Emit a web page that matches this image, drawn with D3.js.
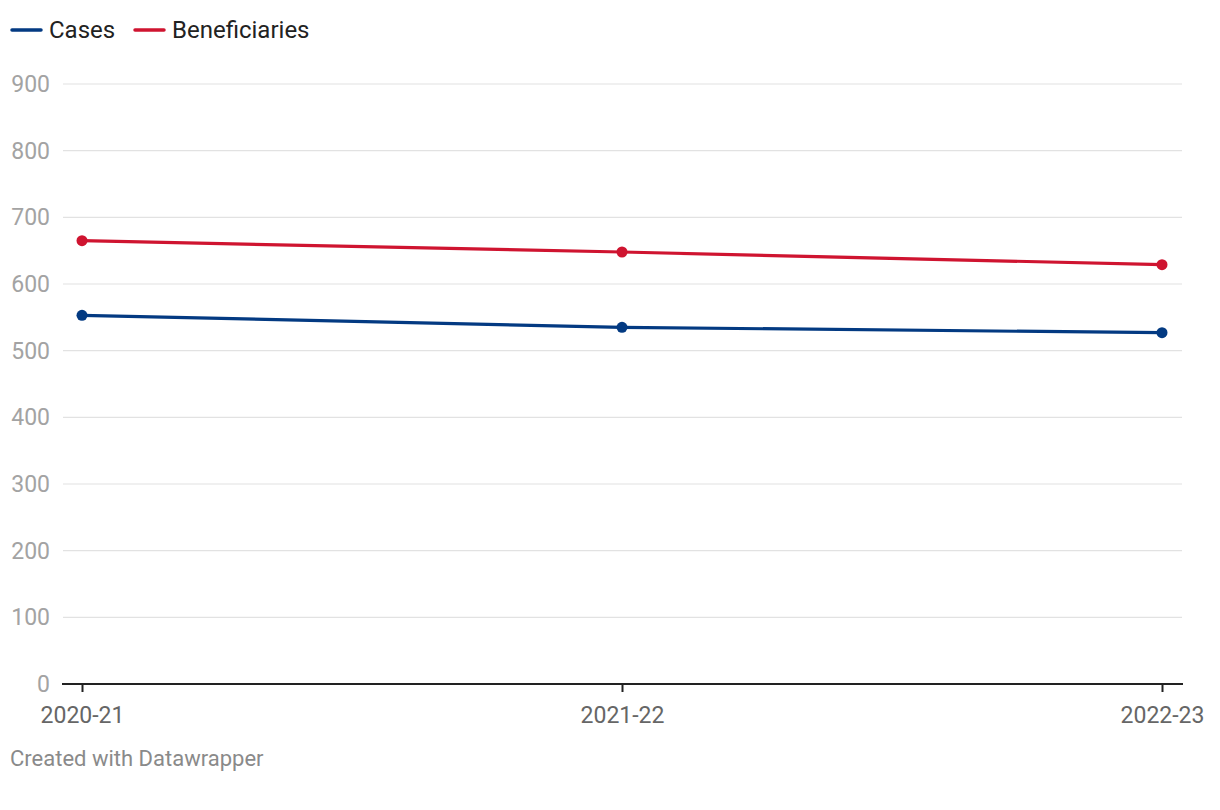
<!DOCTYPE html>
<html>
<head>
<meta charset="utf-8">
<script src="https://cdn.jsdelivr.net/npm/d3@7"></script>
<style>
  body { margin: 0; background: #fff; font-family: Roboto, "Noto Sans", sans-serif; }
</style>
</head>
<body>
<svg width="1220" height="810"></svg>
<script>
// data
var years = ["2020-21", "2021-22", "2022-23"];
var cases = [553, 535, 527];
var beneficiaries = [665, 648, 629];
var yTicks = [0, 100, 200, 300, 400, 500, 600, 700, 800, 900];

var seriesList = [
  { name: "Cases", values: cases, color: "#033a82" },
  { name: "Beneficiaries", values: beneficiaries, color: "#cf1430" }
];

var svg = d3.select("svg");

var x = d3.scalePoint()
    .domain(years)
    .range([82, 1162]);

var y = d3.scaleLinear()
    .domain([0, 900])
    .range([684, 84]);

// gridlines
svg.append("g")
  .selectAll("line")
  .data(yTicks.filter(function(d){ return d > 0 }))
  .enter()
  .append("line")
    .attr("x1", 63)
    .attr("x2", 1182)
    .attr("y1", function(d){ return y(d) })
    .attr("y2", function(d){ return y(d) })
    .attr("stroke", "#e2e2e2")
    .attr("stroke-width", 1.2);

// y labels
svg.append("g")
  .selectAll("text")
  .data(yTicks)
  .enter()
  .append("text")
    .attr("x", 50)
    .attr("y", function(d){ return y(d) })
    .attr("dy", "0.35em")
    .attr("text-anchor", "end")
    .attr("fill", "#a3a3a3")
    .style("font-size", "23px")
    .text(function(d){ return d });

// x axis
var xAxis = svg.append("g")
    .attr("transform", "translate(0,684)")
    .call(d3.axisBottom(x).tickSize(8).tickPadding(15));
xAxis.select(".domain").remove();
xAxis.selectAll(".tick line").attr("stroke", "#222").attr("stroke-width", 2);
xAxis.selectAll(".tick text")
    .attr("fill", "#666")
    .style("font-size", "23px")
    .style("font-family", "Roboto, sans-serif");

svg.append("line")
    .attr("x1", 62)
    .attr("x2", 1183)
    .attr("y1", 684)
    .attr("y2", 684)
    .attr("stroke", "#222")
    .attr("stroke-width", 2);

// lines + dots
var line = d3.line()
    .x(function(d, i){ return x(years[i]) })
    .y(function(d){ return y(d) });

seriesList.forEach(function(s) {
  svg.append("path")
    .datum(s.values)
    .attr("fill", "none")
    .attr("stroke", s.color)
    .attr("stroke-width", 3.2)
    .attr("d", line);

  svg.append("g")
    .selectAll("circle")
    .data(s.values)
    .enter()
    .append("circle")
      .attr("cx", function(d, i){ return x(years[i]) })
      .attr("cy", function(d){ return y(d) })
      .attr("r", 5.5)
      .attr("fill", s.color);
});

// legend
var legendX = [11, 134];
var legend = svg.append("g")
  .selectAll("g")
  .data(seriesList)
  .enter()
  .append("g")
    .attr("transform", function(d, i){ return "translate(" + legendX[i] + ",30)" });

legend.append("line")
    .attr("x1", 1)
    .attr("x2", 30)
    .attr("stroke", function(d){ return d.color })
    .attr("stroke-width", 3.5)
    .attr("stroke-linecap", "round");

legend.append("text")
    .attr("x", 38)
    .attr("dy", "0.35em")
    .attr("fill", "#222")
    .style("font-size", "24px")
    .text(function(d){ return d.name });

// footer
svg.append("text")
    .attr("x", 10)
    .attr("y", 766)
    .attr("fill", "#8a8a8a")
    .style("font-size", "22px")
    .text("Created with Datawrapper");
</script>
</body>
</html>
